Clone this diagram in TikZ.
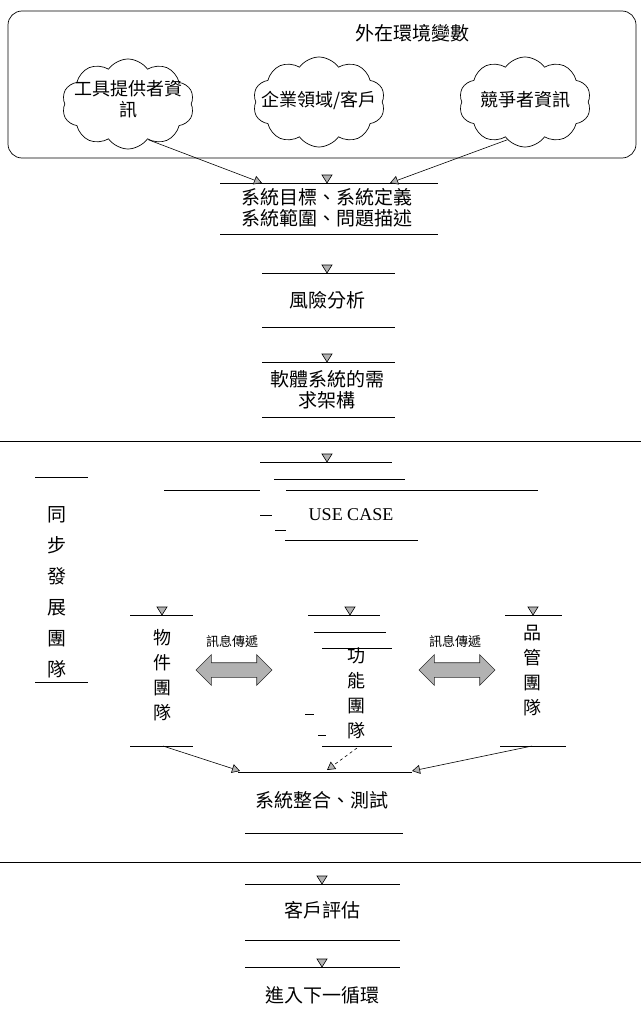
\documentclass[tikz,border=0pt]{standalone}
\usepackage{fontspec}
\setmainfont{Liberation Serif}
\newfontfamily\cjk{Noto Sans CJK TC}
\usetikzlibrary{shapes.symbols,shapes.geometric,shapes.arrows,arrows.meta}
\begin{document}
\begin{tikzpicture}[x=1pt,y=-1pt,
  every node/.style={inner sep=0pt},
  txt/.style={font=\cjk\fontsize{19}{21}\selectfont, align=center},
  vtxt/.style={font=\cjk\fontsize{18}{25}\selectfont, align=center},
  small/.style={font=\cjk\fontsize{13}{15}\selectfont},
  ln/.style={line width=0.7pt},
  cl/.style={cloud, draw, line width=0.7pt, cloud puffs=10, cloud puff arc=110, aspect=1.45, minimum width=132pt, minimum height=90pt},
  arr/.style={line width=0.6pt, -{Triangle[length=8pt,width=9pt,fill=gray!60]}},
  dbl/.style={double arrow, fill=gray!60, draw=gray!35!black, line width=0.6pt, double arrow head extend=8pt, inner sep=7pt, minimum height=76pt},
  dtri/.pic={\filldraw[fill=gray!60, line width=0.6pt] (-5,-8) -- (5,-8) -- (0,0) -- cycle;}
]
\useasboundingbox (0,0) rectangle (641,1022);

% external environment
\draw[ln, rounded corners=14pt] (8,11) rectangle (636,158);
\node[txt] (env) at (412,33) {外在環境變數};
\node[cl] (c1) at (128,104) {};
\node[font=\cjk\fontsize{18}{21}\selectfont, align=center] (t1) at (128,99) {工具提供者資\\訊};
\node[cl] (c2) at (319,102) {};
\node[font=\cjk\fontsize{18}{21}\selectfont] (t2) at (319,100) {企業領域/客戶};
\node[cl] (c3) at (525,102) {};
\node[font=\cjk\fontsize{18}{21}\selectfont] (t3) at (525,100) {競爭者資訊};

% block 1
\coordinate (a1) at (262,183);
\coordinate (a3) at (390,183);
\draw[ln] (220,183) -- (438,183);
\pic at (327,183) {dtri};
\node[txt] (b1) at (327,208) {系統目標、系統定義\\系統範圍、問題描述};
\draw[ln] (220,234) -- (438,234);
\draw[arr] (c1.300) -- (a1);
\draw[arr] (c3.245) -- (a3);

% block 2
\draw[ln] (262,273) -- (395,273);
\pic at (327,273) {dtri};
\node[txt] (b2) at (327,300) {風險分析};
\draw[ln] (262,327) -- (395,327);

% block 3
\draw[ln] (262,362) -- (395,362);
\pic at (327,362) {dtri};
\node[txt] (b3) at (327,390) {軟體系統的需\\求架構};
\draw[ln] (262,417) -- (395,417);

\draw[ln] (0,441) -- (641,441);

% use case
\draw[ln] (260,462) -- (392,462);
\pic at (327,462) {dtri};
\draw[ln] (274,479) -- (405,479);
\draw[ln] (164,490) -- (260,490);
\draw[ln] (286,490) -- (538,490);
\draw[ln] (260,515) -- (272,515);
\node[font=\fontsize{18}{20}\selectfont] (uc) at (351,515) {USE CASE};
\draw[ln] (275,530) -- (286,530);
\draw[ln] (285,540) -- (418,540);

% left label
\draw[ln] (35,477) -- (88,477);
\node[font=\cjk\fontsize{19}{31}\selectfont, align=center] (sync) at (57,592) {同\\步\\發\\展\\團\\隊};
\draw[ln] (35,682) -- (88,682);

% teams
\draw[ln] (130,615) -- (193,615);
\pic at (162,615) {dtri};
\draw[ln] (308,615) -- (380,615);
\pic at (350,615) {dtri};
\draw[ln] (314,632) -- (386,632);
\draw[ln] (322,648) -- (392,648);
\draw[ln] (505,615) -- (562,615);
\pic at (533,615) {dtri};

\node[vtxt] (obj) at (162,675) {物\\件\\團\\隊};
\node[vtxt] (fun) at (356,693) {功\\能\\團\\隊};
\node[vtxt] (qa) at (532,671) {品\\管\\團\\隊};

\node[dbl] (d1) at (234,670) {};
\node[dbl] (d2) at (457,670) {};
\node[small] (m1) at (232,641) {訊息傳遞};
\node[small] (m2) at (455,641) {訊息傳遞};

\draw[ln] (305,714) -- (314,714);
\draw[ln] (318,735) -- (326,735);

\coordinate (o1) at (163,746);
\coordinate (o2) at (357,748);
\coordinate (o3) at (532,746);
\draw[ln] (130,746) -- (193,746);
\draw[ln] (322,746) -- (392,746);
\draw[ln] (500,746) -- (566,746);

\coordinate (e1) at (240,771);
\coordinate (e2) at (327,770);
\coordinate (e3) at (412,771);
\draw[arr] (o1) -- (e1);
\draw[arr, dashed] (o2) -- (e2);
\draw[arr] (o3) -- (e3);

\draw[ln] (238,772) -- (412,772);
\node[txt] (integ) at (322,800) {系統整合、測試};
\draw[ln] (245,833) -- (403,833);

\draw[ln] (0,862) -- (641,862);

\draw[ln] (245,884) -- (400,884);
\pic at (322,884) {dtri};
\node[txt] (eval) at (322,910) {客戶評估};
\draw[ln] (245,940) -- (400,940);
\draw[ln] (245,967) -- (400,967);
\pic at (322,967) {dtri};
\node[txt] (next) at (322,995) {進入下一循環};
\end{tikzpicture}
\end{document}
